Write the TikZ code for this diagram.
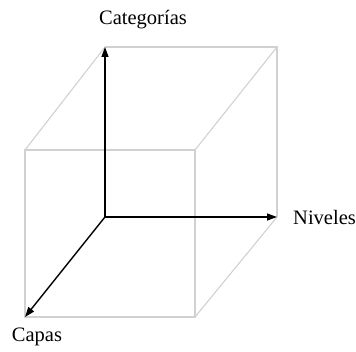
\documentclass[tikz,border=0pt]{standalone}
\usepackage{fontspec}
\setmainfont{Liberation Serif}
\usetikzlibrary{arrows.meta}
\begin{document}
\begin{tikzpicture}[x=1pt,y=1pt,
  edge/.style={draw=black!18,line width=1.1pt},
  axis/.style={draw=black,line width=1.4pt,-{Stealth[length=10pt,width=7pt,inset=0pt]}},
  lbl/.style={font=\fontsize{20.5}{24}\selectfont,inner sep=0pt}]
\useasboundingbox (0,0) rectangle (356,352);
% back face corners
\coordinate (O) at (105,135);
\coordinate (T) at (105,305);
\coordinate (R) at (277,135);
\coordinate (TR) at (277,305);
% front face corners
\coordinate (D) at (25,35);
\coordinate (FT) at (25,202);
\coordinate (FR) at (195,35);
\coordinate (FTR) at (195,202);
% cube edges
\draw[edge] (D) -- (FR) -- (FTR) -- (FT) -- cycle;
\draw[edge] (T) -- (TR) -- (R);
\draw[edge] (FT) -- (T);
\draw[edge] (FTR) -- (TR);
\draw[edge] (FR) -- (R);
% axes
\draw[axis] (O) -- (T);
\draw[axis] (O) -- (R);
\draw[axis] (O) -- (D);
% labels
\node[lbl] (cat) at (143,332) {Categorías};
\node[lbl,anchor=west] (niv) at (293,135) {Niveles};
\node[lbl] (cap) at (37,15) {Capas};
\end{tikzpicture}
\end{document}
